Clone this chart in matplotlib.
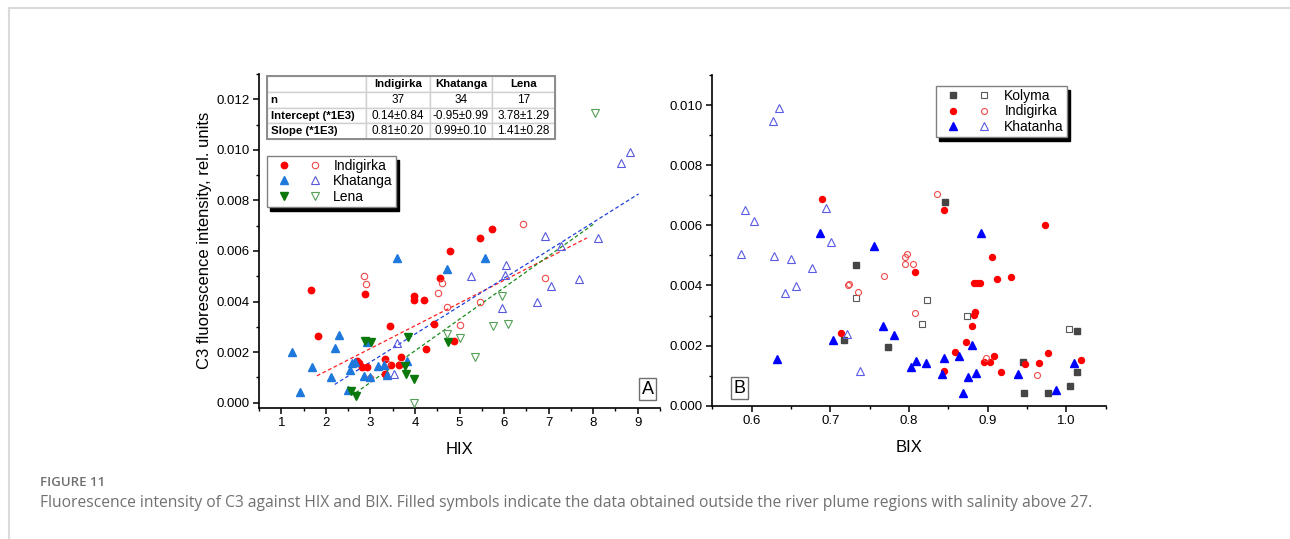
import matplotlib

matplotlib.use("Agg")  # sin pantalla
import matplotlib.pyplot as plt
from matplotlib.legend_handler import HandlerTuple
from matplotlib.lines import Line2D
from matplotlib.patches import Rectangle
from matplotlib.ticker import FormatStrFormatter, MultipleLocator

plt.rcParams["font.family"] = ["Liberation Sans", "DejaVu Sans"]

W, H = 1290, 539

# ---------------- Panel A: C3 vs HIX ----------------
indig_hix_fill = [1.66, 1.82, 2.87, 2.70, 2.75, 2.82, 2.93, 3.32, 3.32, 3.44, 3.47, 3.65,
                  3.69, 3.98, 3.98, 4.20, 4.25, 4.43, 4.57, 4.78, 4.88, 5.47, 5.73]
indig_c3_fill = [0.00445, 0.00264, 0.00429, 0.00165, 0.00155, 0.00140, 0.00142, 0.00174,
                 0.00113, 0.00302, 0.00148, 0.00148, 0.00181, 0.00420, 0.00407, 0.00407,
                 0.00211, 0.00311, 0.00495, 0.00600, 0.00242, 0.00652, 0.00687]
indig_hix_open = [2.85, 2.90, 3.00, 3.36, 4.52, 4.60, 4.73, 5.00, 5.45, 6.43, 6.93]
indig_c3_open = [0.00502, 0.00470, 0.00099, 0.00158, 0.00433, 0.00472, 0.00378, 0.00309,
                 0.00400, 0.00705, 0.00493]

khat_hix_fill = [1.25, 1.42, 1.70, 2.12, 2.20, 2.30, 2.50, 2.55, 2.58, 2.65, 2.85, 2.92,
                 3.00, 3.18, 3.30, 3.38, 3.60, 3.82, 4.73, 5.58]
khat_c3_fill = [0.00200, 0.00042, 0.00142, 0.00102, 0.00217, 0.00267, 0.00050, 0.00130,
                0.00158, 0.00160, 0.00105, 0.00240, 0.00100, 0.00145, 0.00147, 0.00110,
                0.00572, 0.00165, 0.00530, 0.00572]
khat_hix_open = [3.52, 3.60, 5.25, 5.95, 6.03, 6.05, 6.75, 6.93, 7.05, 7.28, 7.68, 8.10,
                 8.63, 8.83]
khat_c3_open = [0.00115, 0.00237, 0.00500, 0.00375, 0.00505, 0.00545, 0.00398, 0.00658,
                0.00460, 0.00618, 0.00488, 0.00650, 0.00948, 0.00990]

lena_hix_fill = [2.57, 2.68, 2.88, 3.02, 3.77, 3.80, 3.85, 3.98, 4.75]
lena_c3_fill = [0.00045, 0.00028, 0.00245, 0.00240, 0.00145, 0.00112, 0.00260, 0.00095,
                0.00240]
lena_hix_open = [3.97, 4.73, 5.00, 5.35, 5.75, 5.95, 6.08, 8.05]
lena_c3_open = [0.00000, 0.00270, 0.00255, 0.00180, 0.00305, 0.00420, 0.00310, 0.01145]

# rectas de ajuste tal como se ven en la figura
fit_x_start = [1.80, 2.20, 2.67]
fit_x_end = [7.86, 9.02, 8.01]
fit_slope = [0.90e-3, 1.105e-3, 1.25e-3]
fit_intercept = [-0.56e-3, -1.71e-3, -2.95e-3]
fit_colors = ["#ff2020", "#2040e0", "#1a8c1a"]

table_header = ["", "Indigirka", "Khatanga", "Lena"]
table_rows = ["n", "Intercept (*1E3)", "Slope (*1E3)"]
table_n = ["37", "34", "17"]
table_intercept = ["0.14\u00b10.84", "-0.95\u00b10.99", "3.78\u00b11.29"]
table_slope = ["0.81\u00b10.20", "0.99\u00b10.10", "1.41\u00b10.28"]

# ---------------- Panel B: C3 vs BIX ----------------
kol_bix_fill = [0.717, 0.733, 0.773, 0.846, 0.945, 0.946, 0.977, 1.004, 1.014, 1.014]
kol_c3_fill = [0.00220, 0.00469, 0.00196, 0.00677, 0.00147, 0.00043, 0.00043, 0.00067,
               0.00111, 0.00250]
kol_bix_open = [0.733, 0.817, 0.823, 0.874, 1.003]
kol_c3_open = [0.00359, 0.00272, 0.00352, 0.00299, 0.00256]

indb_bix_fill = [0.690, 0.713, 0.808, 0.845, 0.845, 0.859, 0.873, 0.880, 0.883, 0.884,
                 0.883, 0.887, 0.890, 0.895, 0.906, 0.903, 0.908, 0.912, 0.917, 0.930,
                 0.947, 0.965, 0.973, 0.977, 1.018]
indb_c3_fill = [0.00687, 0.00241, 0.00444, 0.00652, 0.00116, 0.00179, 0.00211, 0.00265,
                0.00303, 0.00312, 0.00407, 0.00407, 0.00407, 0.00147, 0.00496, 0.00147,
                0.00166, 0.00422, 0.00113, 0.00428, 0.00139, 0.00141, 0.00600, 0.00175,
                0.00152]
indb_bix_open = [0.722, 0.724, 0.735, 0.768, 0.795, 0.7955, 0.797, 0.805, 0.807, 0.836,
                 0.898, 0.963]
indb_c3_open = [0.00400, 0.00404, 0.00379, 0.00432, 0.00471, 0.00493, 0.00506, 0.00472,
                0.00308, 0.00704, 0.00160, 0.00101]

khb_bix_fill = [0.632, 0.687, 0.7035, 0.755, 0.767, 0.781, 0.802, 0.8095, 0.822, 0.842,
                0.845, 0.864, 0.868, 0.875, 0.880, 0.885, 0.892, 0.938, 0.987, 1.010]
khb_c3_fill = [0.00157, 0.00573, 0.00218, 0.00531, 0.00264, 0.00236, 0.00130, 0.00148,
               0.00143, 0.00105, 0.00160, 0.00166, 0.00043, 0.00097, 0.00201, 0.00108,
               0.00573, 0.00105, 0.00052, 0.00143]
khb_bix_open = [0.587, 0.591, 0.603, 0.627, 0.635, 0.629, 0.642, 0.650, 0.657, 0.677,
                0.695, 0.701, 0.721, 0.738]
khb_c3_open = [0.00504, 0.00650, 0.00613, 0.00948, 0.00990, 0.00499, 0.00374, 0.00488,
               0.00397, 0.00458, 0.00659, 0.00544, 0.00237, 0.00117]

caption_title = "FIGURE 11"
caption_text = ("Fluorescence intensity of C3 against HIX and BIX. Filled symbols indicate "
                "the data obtained outside the river plume regions with salinity above 27.")


def style_axis(ax):
    ax.spines["top"].set_visible(False)
    ax.spines["right"].set_visible(False)
    for s in ("left", "bottom"):
        ax.spines[s].set_linewidth(1.2)
    ax.tick_params(which="major", direction="out", length=4, width=1.1, labelsize=9.5, pad=3)
    ax.tick_params(which="minor", direction="out", length=2.3, width=1.0)
    ax.yaxis.set_major_locator(MultipleLocator(0.002))
    ax.yaxis.set_minor_locator(MultipleLocator(0.001))
    ax.yaxis.set_major_formatter(FormatStrFormatter("%.3f"))


def legend_pair(ax, pairs, labels, anchor, pad, hlen, tpad):
    leg = ax.legend(
        pairs, labels,
        handler_map={tuple: HandlerTuple(ndivide=None, pad=pad)},
        loc="upper left", bbox_to_anchor=anchor, borderaxespad=0,
        fontsize=10, handlelength=hlen, handletextpad=tpad, borderpad=0.2,
        labelspacing=0.12, fancybox=False, framealpha=1, edgecolor="#808080",
        shadow={"ox": 2.3, "oy": -3, "facecolor": "black", "edgecolor": "black", "alpha": 1},
    )
    leg.get_frame().set_linewidth(1.0)
    return leg


fig = plt.figure(figsize=(W / 100, H / 100), dpi=100)
axA = fig.add_axes([259 / W, 1 - 407.7 / H, 401 / W, 333.7 / H])
axB = fig.add_axes([712.3 / W, 1 - 405.7 / H, 393.4 / W, 330.7 / H])

# ---- Panel A ----
ms_c, ms_t = 4.6, 5.2
mew = 0.8
for xs, xe, k, b, c in zip(fit_x_start, fit_x_end, fit_slope, fit_intercept, fit_colors):
    axA.plot([xs, xe], [b + k * xs, b + k * xe], ls=(0, (3, 2)), lw=0.9, color=c, zorder=2)

hA1 = axA.plot(indig_hix_fill, indig_c3_fill, "o", ms=ms_c, color="#ff0000", mec="#ff0000", zorder=3)[0]
hA2 = axA.plot(indig_hix_open, indig_c3_open, "o", ms=ms_c, mfc="none", mec="#ee4a4a", mew=mew, zorder=3)[0]
hA3 = axA.plot(khat_hix_fill, khat_c3_fill, "^", ms=ms_t, color="#1f78dc", zorder=3)[0]
hA4 = axA.plot(khat_hix_open, khat_c3_open, "^", ms=ms_t, mfc="none", mec="#5858dc", mew=mew, zorder=3)[0]
hA5 = axA.plot(lena_hix_fill, lena_c3_fill, "v", ms=ms_t, color="#0a780a", zorder=3)[0]
hA6 = axA.plot(lena_hix_open, lena_c3_open, "v", ms=ms_t, mfc="none", mec="#55a055", mew=mew, zorder=3)[0]

axA.set_xlim(0.5, 9.5)
axA.set_ylim(-0.0002, 0.0130)
style_axis(axA)
axA.xaxis.set_major_locator(MultipleLocator(1))
axA.xaxis.set_minor_locator(MultipleLocator(0.5))
axA.set_xlabel("HIX", fontsize=12, labelpad=9)
axA.set_ylabel("C3 fluorescence intensity, rel. units", fontsize=12, labelpad=3)

legend_pair(axA, [(hA1, hA2), (hA3, hA4), (hA5, hA6)], ["Indigirka", "Khatanga", "Lena"],
            (0.0207, 0.755), 0.19, 4.27, 0.28)

# tabla de ajustes
cells = [table_header,
         [table_rows[0]] + table_n,
         [table_rows[1]] + table_intercept,
         [table_rows[2]] + table_slope]
tbl = axA.table(cellText=cells, colWidths=[98.4, 64.3, 62.3, 62.7],
                bbox=[0.0207, 0.8043, 0.717, 0.19], cellLoc="center")
tbl.auto_set_font_size(False)
for (r, c), cell in tbl.get_celld().items():
    cell.set_edgecolor("#d0d0d0")
    cell.set_linewidth(1.0)
    cell.get_text().set_fontsize(8.5)
    if r == 0 or c == 0:
        cell.get_text().set_fontweight("bold")
        cell.get_text().set_fontsize(8.2)
    if c == 0:
        cell._loc = "left"
        cell.PAD = 0.035
        cell.get_text().set_ha("left")
axA.add_patch(Rectangle((0.0207, 0.8043), 0.717, 0.19, transform=axA.transAxes,
                        fill=False, ec="#8c8c8c", lw=1.4, zorder=5, clip_on=False))

axA.text(0.969, 0.056, "A", transform=axA.transAxes, fontsize=13, ha="center", va="center",
         bbox=dict(boxstyle="square,pad=0.16", fc="white", ec="#707070", lw=1.0))

# ---- Panel B ----
ms_s = 4.0
hB1 = axB.plot(kol_bix_fill, kol_c3_fill, "s", ms=ms_s, color="#454545", zorder=3)[0]
hB2 = axB.plot(kol_bix_open, kol_c3_open, "s", ms=ms_s, mfc="none", mec="#5a5a5a", mew=mew, zorder=3)[0]
hB3 = axB.plot(indb_bix_fill, indb_c3_fill, "o", ms=4.3, color="#ff0000", zorder=3)[0]
hB4 = axB.plot(indb_bix_open, indb_c3_open, "o", ms=4.3, mfc="none", mec="#ee4a4a", mew=mew, zorder=3)[0]
hB5 = axB.plot(khb_bix_fill, khb_c3_fill, "^", ms=5.4, color="#0000ff", zorder=3)[0]
hB6 = axB.plot(khb_bix_open, khb_c3_open, "^", ms=5.4, mfc="none", mec="#5a5ae6", mew=mew, zorder=3)[0]

axB.set_xlim(0.55, 1.05)
axB.set_ylim(0.0, 0.011)
style_axis(axB)
axB.xaxis.set_major_locator(MultipleLocator(0.1))
axB.xaxis.set_minor_locator(MultipleLocator(0.05))
axB.xaxis.set_major_formatter(FormatStrFormatter("%.1f"))
axB.set_xlabel("BIX", fontsize=12, labelpad=9)

legend_pair(axB, [(hB1, hB2), (hB3, hB4), (hB5, hB6)], ["Kolyma", "Indigirka", "Khatanha"],
            (0.5686, 0.9667), 0.11, 4.31, 0.41)

axB.text(0.069, 0.0535, "B", transform=axB.transAxes, fontsize=13, ha="center", va="center",
         bbox=dict(boxstyle="square,pad=0.16", fc="white", ec="#707070", lw=1.0))

# ---- marco y pie de figura ----
fig.add_artist(Line2D([9 / W, 1.0], [1 - 7.5 / H] * 2, transform=fig.transFigure,
                      color="#dadada", lw=1.5))
fig.add_artist(Line2D([9 / W] * 2, [0.0, 1 - 7.5 / H], transform=fig.transFigure,
                      color="#dadada", lw=1.5))

fig.text(40 / W, 1 - 483 / H, caption_title, fontsize=9.5, fontweight="semibold",
         color="#707070", family=["Open Sans", "DejaVu Sans"], va="center", ha="left")
cap = fig.text(40 / W, 1 - 503 / H, caption_text, fontsize=11, color="#707070",
               family=["Open Sans", "DejaVu Sans"], va="center", ha="left")
fig.canvas.draw()
w_cap = cap.get_window_extent().width
cap.set_fontsize(11 * 1051 / w_cap)

fig.savefig("out.png", dpi=100)
plt.close(fig)
